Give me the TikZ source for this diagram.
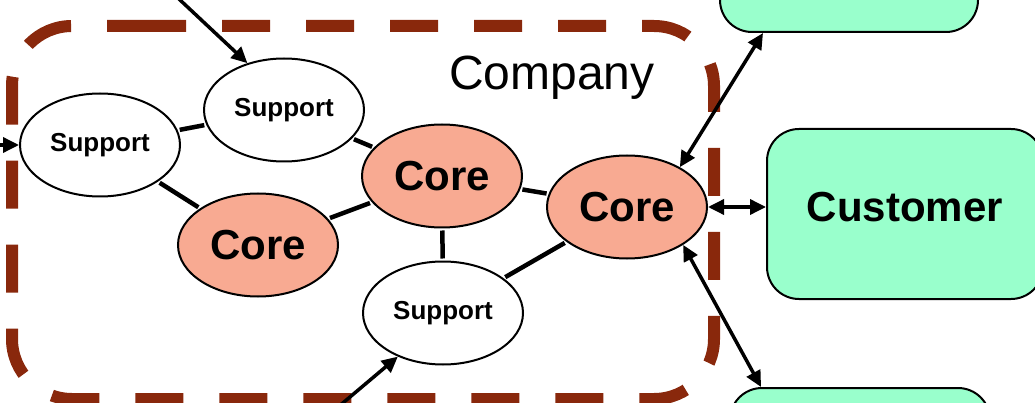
\documentclass[tikz,border=0pt]{standalone}
\usepackage{fontspec}
\setmainfont{Liberation Sans}
\usetikzlibrary{arrows.meta,shapes.geometric}
\definecolor{companyline}{RGB}{137,40,12}
\definecolor{corefill}{RGB}{248,170,146}
\definecolor{partyfill}{RGB}{153,255,204}
\tikzset{unit/.style={ellipse,draw,line width=2pt,minimum width=160,minimum height=103,inner sep=0pt,
  font=\bfseries\fontsize{26}{30}\selectfont},
 core/.style={unit,fill=corefill,font=\bfseries\fontsize{42}{48}\selectfont},
 party/.style={draw,line width=2pt,rounded corners=32,fill=partyfill,minimum width=276,minimum height=170,
  font=\bfseries\fontsize{42}{48}\selectfont},
 link/.style={line width=4.5pt,shorten <=2pt,shorten >=2pt},
 flow/.style={-{Triangle[length=16pt,width=15pt]},line width=3.5pt},
 twoway/.style={{Triangle[length=16pt,width=15pt]}-{Triangle[length=16pt,width=15pt]},line width=3.5pt}}

\begin{document}
\begin{tikzpicture}[x=1pt,y=-1pt]
\useasboundingbox (0,0) rectangle (1035,403);
\clip (0,0) rectangle (1035,403);
% company boundary
\draw[companyline,line width=12pt,dash pattern=on 48pt off 36pt,rounded corners=60pt]
 (138,26) -- (714,26) -- (714,399) -- (12,399) -- (12,26) -- (138,26);
\node[font=\fontsize{48}{56}\selectfont] (company) at (552,78) {Company};
% units inside the company
\node[unit] (sup1) at (100,145) {Support};
\node[unit] (sup2) at (284,110) {Support};
\node[unit] (sup3) at (443,313) {Support};
\node[core] (core1) at (442,176) {Core};
\node[core] (core2) at (258,245) {Core};
\node[core] (core3) at (627,207) {Core};
% outside parties
\node[party,text depth=14pt] (customer) at (905,214) {Customer};
\node[party,minimum width=258] (partnertop) at (849,-53) {};
\node[party,minimum width=260] (partnerbottom) at (860,473) {};
\foreach \from/\to in {sup1/sup2,sup1/core2,sup2/core1,core2/core1,core1/core3,core1/sup3,sup3/core3}
 \draw[link] (\from) -- (\to);
% inputs from outside the picture
\coordinate (intop) at (163,-16);
\coordinate (inleft) at (-30,145);
\coordinate (inbottom) at (331,413);
\draw[flow] (intop) -- (sup2.128);
\draw[flow] (inleft) -- (sup1.west);
\draw[flow] (inbottom) -- (sup3.224);
\draw[twoway] (core3.37) -- (partnertop.225);
\draw[twoway] (core3.east) -- (core3.east -| customer.west);
\draw[twoway] (core3.-34) -- (partnerbottom.139);
\end{tikzpicture}
\end{document}
